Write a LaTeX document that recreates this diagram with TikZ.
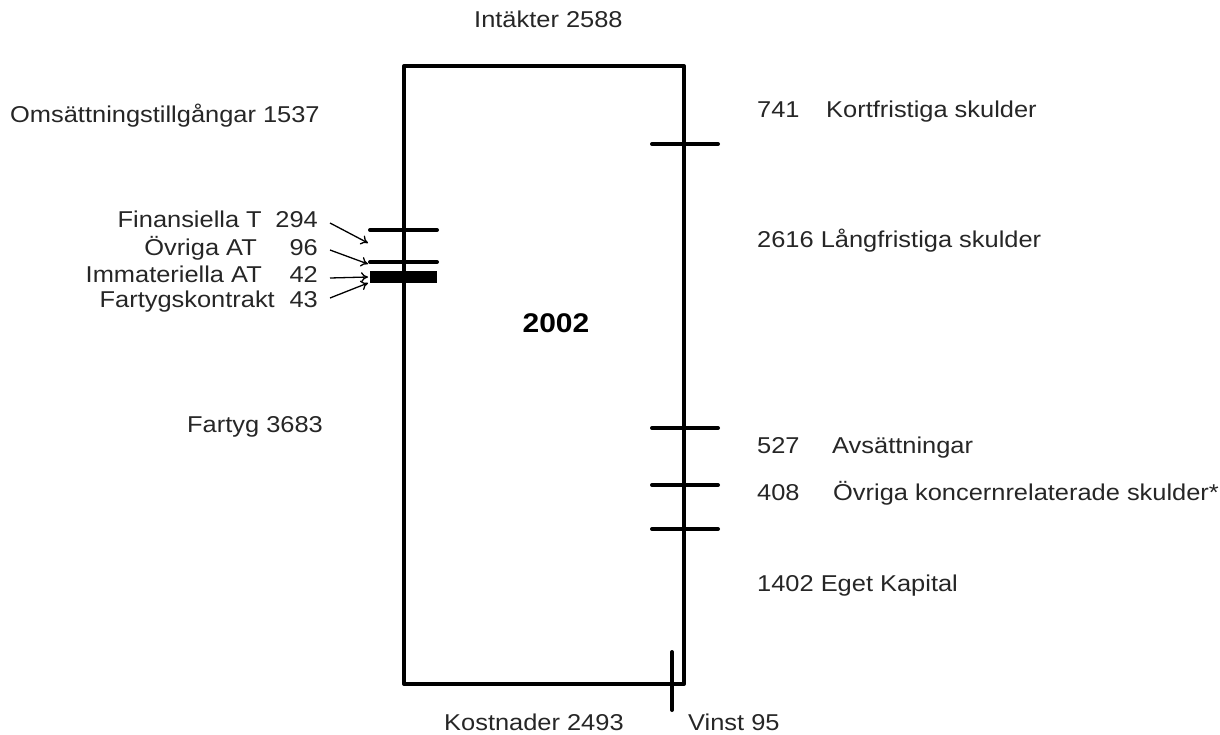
\documentclass[tikz,border=0pt]{standalone}
\usepackage{fontspec}
\setmainfont{Liberation Sans}[FakeStretch=1.11]
\usetikzlibrary{arrows.meta}
\begin{document}
\begin{tikzpicture}[x=1pt,y=-1pt,
  lbl/.style={inner sep=0pt,anchor=base west,font=\fontsize{22.9}{26}\selectfont,text=black!85},
  lble/.style={inner sep=0pt,anchor=base east,font=\fontsize{22.9}{26}\selectfont,text=black!85},
  frame/.style={line width=4pt,line join=round},
  tick/.style={line width=4pt,line cap=round},
  ptr/.style={line width=1.3pt,-{To[length=7pt,width=10pt]}}]
\useasboundingbox (0,0) rectangle (1220,735);
% frame
\draw[frame] (404,684) -- (404,66) -- (684,66) -- (684,684) -- cycle;
% right ticks
\draw[tick] (652,144) -- (718,144);
\draw[tick] (652,428) -- (718,428);
\draw[tick] (652,485) -- (718,485);
\draw[tick] (652,529) -- (718,529);
% left ticks
\draw[tick] (370,230) -- (437,230);
\draw[tick] (370,262) -- (437,262);
\draw[line width=12pt] (370,277) -- (437,277);
% profit tick
\draw[tick] (672,652) -- (672,710);
% texts
\node[lbl] (int) at (474,28) {Intäkter 2588};
\node[lbl] (oms) at (10,123) {Omsättningstillgångar 1537};
\node[lble] (fin) at (262,228) {Finansiella T};
\node[lble] (ovr) at (257,255) {Övriga AT};
\node[lble] (imm) at (262,283) {Immateriella AT};
\node[lble] (fk) at (275,307) {Fartygskontrakt};
\node[lble] (n294) at (318,228) {294};
\node[lble] (n96) at (318,255) {96};
\node[lble] (n42) at (318,283) {42};
\node[lble] (n43) at (318,307) {43};
\node[lbl] (fty) at (187,432) {Fartyg 3683};
\node[inner sep=0pt,anchor=base,font=\fontsize{27}{30}\selectfont\bfseries] (yr) at (556,332) {2002};
\node[lbl] (n741) at (757,118) {741};
\node[lbl] (kfs) at (826,118) {Kortfristiga skulder};
\node[lbl] (lfs) at (757,248) {2616 Långfristiga skulder};
\node[lbl] (n527) at (757,453) {527};
\node[lbl] (avs) at (832,453) {Avsättningar};
\node[lbl] (n408) at (757,500) {408};
\node[lbl] (oks) at (833,500) {Övriga koncernrelaterade skulder*};
\node[lbl] (ek) at (757,591) {1402 Eget Kapital};
\node[lbl] (kost) at (444,730) {Kostnader 2493};
\node[lbl] (vin) at (688,730) {Vinst 95};
% arrow end points
\coordinate (a1s) at (330,223); \coordinate (a1e) at (368,243);
\coordinate (a2s) at (330,250); \coordinate (a2e) at (368,264);
\coordinate (a3s) at (330,278); \coordinate (a3e) at (368,277);
\coordinate (a4s) at (330,298); \coordinate (a4e) at (368,283);
\draw[ptr] (a1s) -- (a1e);
\draw[ptr] (a2s) -- (a2e);
\draw[ptr] (a3s) -- (a3e);
\draw[ptr] (a4s) -- (a4e);
\end{tikzpicture}
\end{document}
